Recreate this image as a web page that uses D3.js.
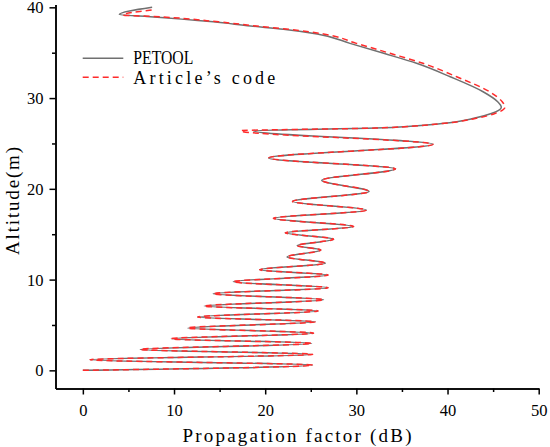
<!DOCTYPE html>
<html>
<head>
<meta charset="utf-8">
<script src="https://cdn.jsdelivr.net/npm/d3@7"></script>
<style>
  body { margin: 0; background: #fff; }
  svg { display: block; }
</style>
</head>
<body>
<script>
// altitude (m) and propagation factor (dB)
var petoolAlt = [0, 0.58, 1.17, 1.76, 2.31, 2.97, 3.48, 4.1, 4.66, 5.35, 5.87, 6.55, 7.08, 7.78, 8.44, 9.1, 9.76, 10.5, 11.08, 11.8, 12.5, 13.25, 13.75, 14.45, 15.15, 15.85, 16.75, 17.65, 18.6, 19.7, 20.95, 22.2, 23.4, 24.9, 26.4, 26.7, 27.2, 27.8, 28.3, 29.0, 29.6, 30.7, 32.35, 33.83, 34.93, 36.03, 37.06, 37.58, 37.94, 38.4, 39.0, 39.2, 40.0];
var petoolDb = [0, 25.2, 0.8, 25.2, 6.3, 25.1, 9.7, 25.3, 11.5, 25.5, 12.6, 25.8, 13.3, 26.4, 14.3, 26.9, 16.5, 26.9, 19.4, 26.6, 22.4, 26.1, 23.5, 27.5, 22.2, 29.7, 20.9, 31.1, 23.0, 31.4, 26.2, 34.3, 20.4, 38.4, 18.7, 32.1, 39.4, 43.0, 44.8, 45.9, 45.5, 43.9, 40.3, 36.6, 33.0, 29.3, 25.7, 22.0, 18.4, 14.3, 7.0, 4.0, 7.6];

var articleAlt = [0, 0.58, 1.17, 1.76, 2.31, 2.97, 3.48, 4.1, 4.66, 5.35, 5.87, 6.55, 7.08, 7.78, 8.44, 9.1, 9.76, 10.5, 11.08, 11.8, 12.5, 13.25, 13.75, 14.45, 15.15, 15.85, 16.75, 17.65, 18.6, 19.7, 20.95, 22.2, 23.4, 24.9, 26.4, 26.7, 27.2, 27.8, 28.3, 29.0, 29.6, 30.7, 32.35, 33.83, 34.93, 36.03, 37.06, 37.58, 37.94, 38.4, 39.0, 39.15, 39.75];
var articleDb = [0, 25.2, 0.8, 25.2, 6.3, 25.1, 9.7, 25.3, 11.5, 25.5, 12.6, 25.8, 13.3, 26.4, 14.3, 26.9, 16.5, 26.9, 19.4, 26.6, 22.4, 26.1, 23.5, 27.5, 22.2, 29.7, 20.9, 31.1, 23.0, 31.4, 26.2, 34.3, 20.4, 38.4, 17.3, 32.1, 39.4, 43.3, 45.2, 46.3, 46.0, 44.6, 41.0, 37.3, 33.7, 30.0, 26.4, 22.6, 19.0, 14.9, 7.6, 4.4, 7.9];

var xMajor = [0, 10, 20, 30, 40, 50];
var xMinor = [5, 15, 25, 35, 45];
var yMajor = [0, 10, 20, 30, 40];
var yMinor = [5, 15, 25, 35];
var seriesNames = ["PETOOL", "Article\u2019s code"];

var width = 550;
var height = 447;
var svg = d3.select("body").append("svg")
	.attr("width", width)
	.attr("height", height);

var x = d3.scaleLinear().domain([-3, 50]).range([55.5, 538.7]);
var y = d3.scaleLinear().domain([-2, 40.3]).range([388.5, 4.6]);

var textFont = "'Liberation Serif', 'DejaVu Serif', serif";

var toPoints = function(alts, dbs) {
	return alts.map(function(a, i) { return {alt: a, db: dbs[i]}; });
};

var line = d3.line()
	.x(function(d) { return x(d.db); })
	.y(function(d) { return y(d.alt); })
	.curve(d3.curveMonotoneY);

// curves
svg.append("path")
	.datum(toPoints(petoolAlt, petoolDb))
	.attr("d", line)
	.attr("fill", "none")
	.attr("stroke", "#707070")
	.attr("stroke-width", 1.5);

svg.append("path")
	.datum(toPoints(articleAlt, articleDb))
	.attr("d", line)
	.attr("fill", "none")
	.attr("stroke", "#ff2b2b")
	.attr("stroke-width", 1.5)
	.attr("stroke-dasharray", "6,4");

// axes
var styleAxis = function(g) {
	g.select(".domain").attr("stroke", "#000").attr("stroke-width", 1.5);
	g.selectAll(".tick line").attr("stroke", "#000").attr("stroke-width", 1.5);
	g.selectAll("text").attr("font-family", textFont).attr("font-size", 16.5).attr("fill", "#000");
};

var xAxis = svg.append("g")
	.attr("transform", "translate(0," + y(-2) + ")")
	.call(d3.axisBottom(x).tickValues(xMajor).tickSize(6).tickSizeOuter(0).tickPadding(10).tickFormat(d3.format("d")));
styleAxis(xAxis);
var xAxisMinor = svg.append("g")
	.attr("transform", "translate(0," + y(-2) + ")")
	.call(d3.axisBottom(x).tickValues(xMinor).tickSize(3.5).tickSizeOuter(0).tickFormat(""));
styleAxis(xAxisMinor);

var yAxis = svg.append("g")
	.attr("transform", "translate(" + x(-3) + ",0)")
	.call(d3.axisLeft(y).tickValues(yMajor).tickSize(6).tickSizeOuter(0).tickPadding(6).tickFormat(d3.format("d")));
styleAxis(yAxis);
yAxis.selectAll(".tick text").attr("dy", "0.34em");
var yAxisMinor = svg.append("g")
	.attr("transform", "translate(" + x(-3) + ",0)")
	.call(d3.axisLeft(y).tickValues(yMinor).tickSize(3.5).tickSizeOuter(0).tickFormat(""));
styleAxis(yAxisMinor);

// axis titles
svg.append("text")
	.attr("x", 297)
	.attr("y", 441.5)
	.attr("text-anchor", "middle")
	.attr("font-family", textFont)
	.attr("font-size", 19)
	.attr("textLength", 229)
	.attr("lengthAdjust", "spacing")
	.text("Propagation factor (dB)");

svg.append("text")
	.attr("transform", "translate(18.5,201) rotate(-90)")
	.attr("text-anchor", "middle")
	.attr("font-family", textFont)
	.attr("font-size", 19)
	.attr("textLength", 108)
	.attr("lengthAdjust", "spacing")
	.text("Altitude(m)");

// legend
var legend = svg.append("g");
legend.append("line")
	.attr("x1", 82.7).attr("x2", 123.3)
	.attr("y1", 58.3).attr("y2", 58.3)
	.attr("stroke", "#707070")
	.attr("stroke-width", 1.5);
legend.append("line")
	.attr("x1", 82.7).attr("x2", 123.3)
	.attr("y1", 77.3).attr("y2", 77.3)
	.attr("stroke", "#ff2b2b")
	.attr("stroke-width", 1.5)
	.attr("stroke-dasharray", "6,4");
legend.append("text")
	.attr("x", 133.3).attr("y", 63.5)
	.attr("font-family", textFont)
	.attr("font-size", 18)
	.attr("textLength", 60)
	.attr("lengthAdjust", "spacingAndGlyphs")
	.text(seriesNames[0]);
legend.append("text")
	.attr("x", 133.3).attr("y", 84)
	.attr("font-family", textFont)
	.attr("font-size", 18)
	.attr("textLength", 142)
	.attr("lengthAdjust", "spacing")
	.text(seriesNames[1]);
</script>
</body>
</html>
